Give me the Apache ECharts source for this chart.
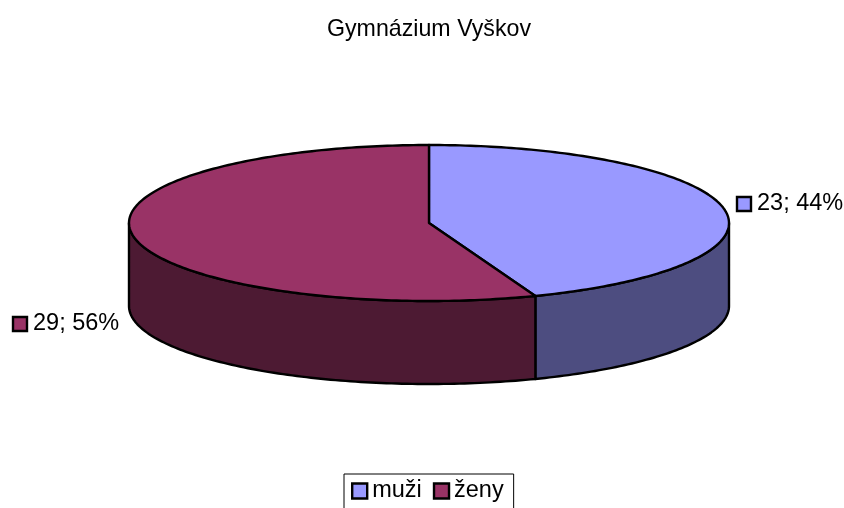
<!DOCTYPE html>
<html>
<head>
<meta charset="utf-8">
<style>
  html, body { margin: 0; padding: 0; background: #fff; overflow: hidden; }
  #chart { width: 844px; height: 508px; }
</style>
<script src="https://cdn.jsdelivr.net/npm/echarts@6/dist/echarts.min.js"></script>
</head>
<body>
<div id="chart"></div>
<script>
const categories = ['muži', 'ženy'];
const values = [23, 29];
const percents = [44, 56];
const topColors = ['#9999FF', '#993366'];
const sideColors = ['#4D4D80', '#4D1A33'];

// ellipse of the pie top and height of the wall
const cx = 429, cy = 223, rx = 300, ry = 78, depth = 83;
const labelPos = [{x: 737, y: 197}, {x: 13, y: 317}];
const FONT = '"Liberation Sans", Arial, sans-serif';

const total = values.reduce((a, b) => a + b, 0);

// angle is clockwise from the top of the ellipse
function pt(deg, dy) {
  const a = deg * Math.PI / 180;
  return [cx + rx * Math.sin(a), cy - ry * Math.cos(a) + dy];
}

function arc(from, to, dy) {
  const pts = [];
  const n = Math.max(2, Math.ceil(Math.abs(to - from)));
  for (let i = 0; i <= n; i++) pts.push(pt(from + (to - from) * i / n, dy));
  return pts;
}

function renderSlice(idx) {
  return function () {
    const start = values.slice(0, idx).reduce((a, b) => a + b, 0) / total * 360;
    const end = start + values[idx] / total * 360;
    const line = {stroke: '#000', lineWidth: 2.4, lineJoin: 'round'};

    // only the part of the wall on the front half (90..270) is visible
    const wFrom = Math.max(start, 90), wTo = Math.min(end, 270);
    const wall = arc(wFrom, wTo, 0).concat(arc(wTo, wFrom, depth));
    const top = [[cx, cy]].concat(arc(start, end, 0));
    const lab = labelPos[idx];

    return {
      type: 'group',
      children: [
        {type: 'polygon', shape: {points: wall}, style: {fill: sideColors[idx], ...line}},
        {type: 'polygon', shape: {points: top}, style: {fill: topColors[idx], ...line}},
        {type: 'rect', shape: {x: lab.x, y: lab.y, width: 14, height: 14},
          style: {fill: topColors[idx], stroke: '#000', lineWidth: 2.4}},
        {type: 'text', x: lab.x + 20, y: lab.y + 7,
          style: {text: values[idx] + '; ' + percents[idx] + '%', fill: '#000',
            font: '23.5px ' + FONT, textVerticalAlign: 'middle'}}
      ]
    };
  };
}

const myChart = echarts.init(document.getElementById('chart'), null, {renderer: 'canvas'});

const option = {
  animation: false,
  backgroundColor: '#fff',
  title: {
    text: 'Gymnázium Vyškov',
    left: 424,
    top: 13,
    textAlign: 'center',
    textStyle: {fontFamily: FONT, fontSize: 23.2, fontWeight: 'normal', color: '#000'}
  },
  legend: {
    data: categories,
    left: 344,
    top: 474,
    padding: [5, 10, 16, 7],
    itemWidth: 15,
    itemHeight: 15,
    itemGap: 11,
    borderColor: '#000',
    borderWidth: 1,
    icon: 'rect',
    selectedMode: false,
    itemStyle: {borderColor: '#000', borderWidth: 2.4},
    textStyle: {fontFamily: FONT, fontSize: 23.5, color: '#000'}
  },
  series: categories.map((name, i) => ({
    type: 'custom',
    name: name,
    coordinateSystem: 'none',
    silent: true,
    itemStyle: {color: topColors[i], borderColor: '#000', borderWidth: 2},
    data: [[values[i]]],
    renderItem: renderSlice(i)
  }))
};

myChart.setOption(option);
</script>
</body>
</html>
